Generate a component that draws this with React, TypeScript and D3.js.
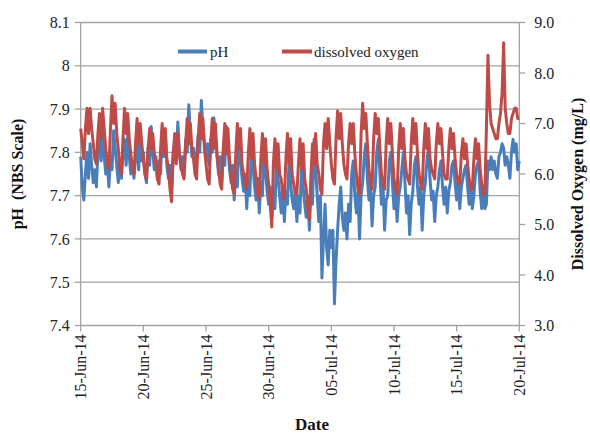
import React from "react";
import * as d3 from "d3";

// 3-hourly readings starting 15-Jun-2014 00:00
const startDate = new Date(Date.UTC(2014, 5, 15));
const stepHours = 3;

const phValues = [
  7.79, 7.72, 7.69, 7.75, 7.80, 7.74, 7.82, 7.77,
  7.73, 7.76, 7.72, 7.80, 7.84, 7.78, 7.86, 7.79,
  7.75, 7.78, 7.72, 7.79, 7.76, 7.85, 7.81, 7.77,
  7.73, 7.78, 7.74, 7.80, 7.83, 7.77, 7.84, 7.79,
  7.75, 7.77, 7.74, 7.79, 7.82, 7.76, 7.83, 7.78,
  7.80, 7.75, 7.73, 7.81, 7.77, 7.86, 7.80, 7.76,
  7.79, 7.74, 7.78, 7.75, 7.85, 7.79, 7.84, 7.77,
  7.74, 7.77, 7.72, 7.80, 7.83, 7.78, 7.87, 7.80,
  7.76, 7.79, 7.75, 7.83, 7.80, 7.91, 7.84, 7.79,
  7.81, 7.76, 7.79, 7.84, 7.80, 7.92, 7.86, 7.82,
  7.78, 7.82, 7.77, 7.83, 7.80, 7.88, 7.84, 7.79,
  7.75, 7.79, 7.73, 7.80, 7.77, 7.86, 7.82, 7.76,
  7.73, 7.77, 7.69, 7.76, 7.72, 7.84, 7.79, 7.74,
  7.71, 7.75, 7.67, 7.74, 7.70, 7.82, 7.77, 7.72,
  7.69, 7.74, 7.66, 7.73, 7.70, 7.80, 7.76, 7.71,
  7.68, 7.72, 7.65, 7.70, 7.67, 7.79, 7.74, 7.70,
  7.66, 7.72, 7.64, 7.71, 7.68, 7.78, 7.73, 7.69,
  7.67, 7.71, 7.64, 7.70, 7.66, 7.77, 7.72, 7.68,
  7.65, 7.70, 7.62, 7.72, 7.68, 7.83, 7.76, 7.70,
  7.64, 7.70, 7.51, 7.60, 7.68, 7.58, 7.54, 7.62,
  7.58, 7.62, 7.45, 7.55, 7.62, 7.68, 7.72, 7.65,
  7.62, 7.66, 7.60, 7.68, 7.64, 7.75, 7.78, 7.70,
  7.66, 7.71, 7.60, 7.70, 7.73, 7.79, 7.82, 7.74,
  7.69, 7.73, 7.63, 7.70, 7.72, 7.80, 7.83, 7.75,
  7.68, 7.72, 7.62, 7.69, 7.70, 7.78, 7.80, 7.73,
  7.67, 7.71, 7.64, 7.70, 7.72, 7.76, 7.80, 7.73,
  7.66, 7.70, 7.61, 7.68, 7.71, 7.77, 7.79, 7.72,
  7.68, 7.72, 7.62, 7.70, 7.73, 7.78, 7.81, 7.74,
  7.69, 7.71, 7.64, 7.70, 7.72, 7.76, 7.78, 7.72,
  7.68, 7.72, 7.66, 7.71, 7.73, 7.77, 7.78, 7.73,
  7.69, 7.73, 7.67, 7.72, 7.74, 7.76, 7.77, 7.72,
  7.68, 7.72, 7.67, 7.70, 7.75, 7.77, 7.78, 7.71,
  7.67, 7.72, 7.67, 7.68, 7.78, 7.76, 7.79, 7.76,
  7.78, 7.75, 7.74, 7.79, 7.80, 7.82, 7.81, 7.77,
  7.79, 7.77, 7.74, 7.80, 7.83, 7.80, 7.82, 7.76,
  7.78,
];

const doValues = [
  6.9, 6.6, 6.3, 6.9, 7.3, 6.8, 7.3, 6.9,
  6.6, 6.3, 6.2, 6.8, 7.2, 6.7, 7.3, 6.9,
  6.5, 6.2, 6.1, 6.9, 7.55, 7.0, 7.4, 6.8,
  6.5, 6.1, 6.0, 6.7, 7.3, 6.8, 7.2, 6.7,
  6.4, 6.1, 6.0, 6.6, 7.1, 6.6, 7.0, 6.6,
  6.3, 6.0, 5.9, 6.5, 6.9, 6.5, 6.8, 6.4,
  6.2, 5.9, 5.8, 6.5, 7.0, 6.4, 6.9, 6.3,
  6.1, 5.7, 5.45, 6.3, 6.8, 6.2, 6.8, 6.4,
  6.2, 6.0, 5.9, 6.6, 7.1, 6.6, 7.0, 6.5,
  6.3, 6.0, 5.9, 6.7, 7.2, 6.7, 7.1, 6.5,
  6.2, 5.9, 5.8, 6.6, 7.1, 6.5, 7.0, 6.4,
  6.1, 5.8, 5.7, 6.5, 7.0, 6.4, 6.9, 6.3,
  6.0, 5.7, 5.6, 6.4, 7.0, 6.5, 6.9, 6.2,
  6.0, 5.8, 5.7, 6.4, 6.9, 6.3, 6.8, 6.2,
  5.9, 5.6, 5.5, 6.3, 6.8, 6.2, 6.7, 6.1,
  5.8, 5.4, 4.95, 6.2, 6.7, 6.1, 6.6, 6.0,
  5.9, 5.6, 5.5, 6.3, 6.8, 6.2, 6.7, 6.0,
  5.8, 5.6, 5.6, 6.2, 6.7, 6.1, 6.6, 5.9,
  5.7, 5.3, 5.1, 6.0, 6.6, 6.2, 6.8, 6.2,
  6.0, 5.7, 5.6, 6.6, 7.0, 6.5, 7.1, 6.6,
  6.2, 5.9, 5.8, 6.7, 7.25, 6.7, 7.2, 6.6,
  6.2, 6.0, 5.9, 6.6, 7.0, 6.6, 7.0, 6.4,
  6.0, 5.7, 5.6, 6.8, 7.4, 6.9, 7.2, 6.6,
  6.1, 5.8, 5.7, 6.7, 7.2, 6.8, 7.1, 6.5,
  6.0, 5.8, 5.7, 6.6, 7.1, 6.6, 7.0, 6.4,
  5.9, 5.7, 5.6, 6.5, 7.0, 6.5, 6.9, 6.3,
  6.0, 5.9, 5.8, 6.6, 7.1, 6.6, 7.0, 6.4,
  6.0, 5.8, 5.7, 6.5, 7.0, 6.5, 6.9, 6.3,
  6.1, 6.0, 5.9, 6.6, 7.0, 6.6, 6.9, 6.4,
  6.0, 5.9, 5.9, 6.5, 6.9, 6.5, 6.8, 6.3,
  6.0, 5.8, 5.8, 6.4, 6.7, 6.3, 6.6, 6.2,
  5.9, 5.7, 5.7, 6.3, 6.7, 6.3, 6.6, 6.1,
  5.8, 5.6, 5.6, 6.9, 8.35, 7.4, 7.0, 6.9,
  6.8, 6.7, 6.7, 7.0, 7.2, 7.6, 8.6, 7.3,
  7.0, 6.8, 6.8, 7.1, 7.2, 7.3, 7.3, 7.1,
  7.1,
];

const phTicks = [7.4, 7.5, 7.6, 7.7, 7.8, 7.9, 8.0, 8.1];
const doTicks = [3, 4, 5, 6, 7, 8, 9];
const dateTicks = [
  "2014-06-15", "2014-06-20", "2014-06-25", "2014-06-30",
  "2014-07-05", "2014-07-10", "2014-07-15", "2014-07-20",
];
const seriesNames = ["pH", "dissolved oxygen"];

const W = 590, H = 433;
const L = 80.7, R = 519.3, T = 22.5, B = 325.5;
const BLUE = "#4a7ebb", RED = "#be4b48", GRID = "#a3a3a3";
const FONT = '"Liberation Serif", "Times New Roman", Times, serif';
const ts = { fontFamily: FONT };

export default function App() {
  const x = d3.scaleUtc()
    .domain([startDate, new Date(Date.UTC(2014, 6, 20))])
    .range([L, R]);
  const yPh = d3.scaleLinear().domain([7.4, 8.1]).range([B, T]);
  const yDo = d3.scaleLinear().domain([3, 9]).range([B, T]);
  const t = (i: number) => new Date(startDate.getTime() + i * stepHours * 3600 * 1000);

  const phLine = d3.line<number>().x((_, i) => x(t(i))).y((v) => yPh(v));
  const doLine = d3.line<number>().x((_, i) => x(t(i))).y((v) => yDo(v));
  const fmt = d3.utcFormat("%d-%b-%y");
  const parse = d3.utcParse("%Y-%m-%d");

  return (
    <svg width={W} height={H} style={{ position: "absolute", left: 0, top: 0, background: "#fff", fontFamily: FONT }}>
      <rect x={0} y={0} width={W} height={H} fill="#fff" />
      {phTicks.slice(1).map((v) => (
        <line key={"g" + v} x1={L} x2={R} y1={yPh(v)} y2={yPh(v)} stroke={GRID} strokeWidth={1.3} />
      ))}
      <line x1={L} x2={L} y1={T} y2={B} stroke={GRID} strokeWidth={1.3} />
      {phTicks.map((v) => (
        <g key={"l" + v}>
          <line x1={L - 6} x2={L} y1={yPh(v)} y2={yPh(v)} stroke={GRID} strokeWidth={1.3} />
          <text x={L - 11} y={yPh(v)} dy="0.35em" textAnchor="end" fontSize={16} fill="#222" style={ts}>
            {d3.format(".2~f")(v)}
          </text>
        </g>
      ))}
      <line x1={R} x2={R} y1={T} y2={B} stroke={GRID} strokeWidth={1.3} />
      {doTicks.map((v) => (
        <g key={"r" + v}>
          <line x1={R} x2={R + 6} y1={yDo(v)} y2={yDo(v)} stroke={GRID} strokeWidth={1.3} />
          <text x={R + 15} y={yDo(v)} dy="0.35em" textAnchor="start" fontSize={16} fill="#222" style={ts}>
            {d3.format(".1f")(v)}
          </text>
        </g>
      ))}
      <line x1={L} x2={R} y1={B} y2={B} stroke={GRID} strokeWidth={1.3} />
      {dateTicks.map((s) => {
        const d = parse(s)!;
        const xx = x(d);
        return (
          <g key={s}>
            <line x1={xx} x2={xx} y1={B} y2={B + 6} stroke={GRID} strokeWidth={1.3} />
            <text transform={`translate(${xx},${B + 9}) rotate(-90)`} dy="0.35em" textAnchor="end" fontSize={16} fill="#222" style={ts}>
              {fmt(d)}
            </text>
          </g>
        );
      })}
      <path d={phLine(phValues) || ""} fill="none" stroke={BLUE} strokeWidth={3} strokeLinejoin="round" />
      <path d={doLine(doValues) || ""} fill="none" stroke={RED} strokeWidth={3} strokeLinejoin="round" />
      <line x1={178} x2={207} y1={51.5} y2={51.5} stroke={BLUE} strokeWidth={4} />
      <text x={210} y={51.5} dy="0.35em" fontSize={15} fill="#222" style={ts}>{seriesNames[0]}</text>
      <line x1={282} x2={312} y1={51.5} y2={51.5} stroke={RED} strokeWidth={4} />
      <text x={314} y={51.5} dy="0.35em" fontSize={15} fill="#222" style={ts}>{seriesNames[1]}</text>
      <text transform={`translate(23,${(T + B) / 2}) rotate(-90)`} textAnchor="middle" fontSize={16} fontWeight="bold" fill="#111" style={ts}>
        pH{"\u00a0\u00a0"}(NBS Scale)
      </text>
      <text transform={`translate(583,${(T + B) / 2 + 10}) rotate(-90)`} textAnchor="middle" fontSize={16} fontWeight="bold" fill="#111" style={ts}>
        Dissolved Oxygen (mg/L)
      </text>
      <text x={312} y={430} textAnchor="middle" fontSize={17} fontWeight="bold" fill="#111" style={ts}>Date</text>
    </svg>
  );
}
